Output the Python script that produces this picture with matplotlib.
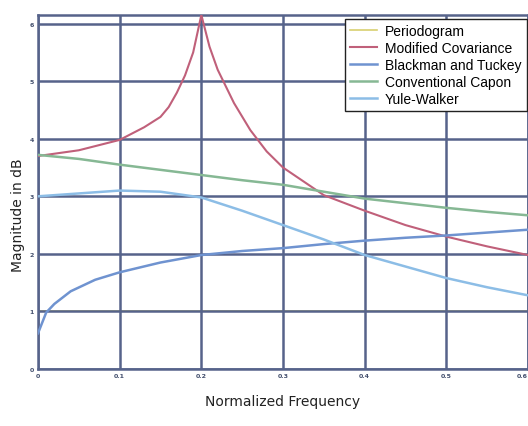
import matplotlib
matplotlib.use("Agg")
import matplotlib.pyplot as plt
import numpy as np

# ---- data ----
x_mc = [0.0, 0.05, 0.1, 0.13, 0.15, 0.16, 0.17, 0.18, 0.19, 0.2, 0.21, 0.22, 0.24, 0.26, 0.28, 0.3, 0.35, 0.4, 0.45, 0.5, 0.55, 0.6]
y_mc = [3.70, 3.80, 3.98, 4.20, 4.38, 4.55, 4.80, 5.10, 5.50, 6.15, 5.60, 5.20, 4.62, 4.15, 3.78, 3.50, 3.02, 2.75, 2.50, 2.30, 2.13, 1.98]

x_cc = [0.0, 0.05, 0.1, 0.15, 0.2, 0.25, 0.3, 0.35, 0.4, 0.45, 0.5, 0.55, 0.6]
y_cc = [3.72, 3.65, 3.55, 3.46, 3.37, 3.28, 3.20, 3.08, 2.96, 2.88, 2.80, 2.73, 2.67]

x_yw = [0.0, 0.05, 0.1, 0.15, 0.2, 0.25, 0.3, 0.35, 0.4, 0.45, 0.5, 0.55, 0.6]
y_yw = [3.00, 3.05, 3.10, 3.08, 2.98, 2.75, 2.50, 2.25, 1.98, 1.78, 1.58, 1.42, 1.28]

x_bt = [0.0, 0.005, 0.01, 0.02, 0.04, 0.07, 0.1, 0.15, 0.2, 0.25, 0.3, 0.35, 0.4, 0.45, 0.5, 0.55, 0.6]
y_bt = [0.62, 0.80, 0.98, 1.13, 1.35, 1.55, 1.68, 1.85, 1.98, 2.05, 2.10, 2.17, 2.23, 2.28, 2.32, 2.37, 2.42]

x_pg = [0.0, 0.6]
y_pg = [1.0, 1.0]

labels = ["Periodogram", "Modified Covariance", "Blackman and Tuckey", "Conventional Capon", "Yule-Walker"]
xticks = [0.0, 0.1, 0.2, 0.3, 0.4, 0.5, 0.6]
xticklabels = ["0", "0.1", "0.2", "0.3", "0.4", "0.5", "0.6"]
yticks = [0, 1, 2, 3, 4, 5, 6]

fig = plt.figure(figsize=(5.28, 4.27), dpi=100)
ax = fig.add_axes([38/528, 1-370/427, 1-38/528, (370-16)/427])

grid_c = "#56638a"
for xv in xticks:
    ax.axvline(xv, color=grid_c, lw=1.8, zorder=1)
for yv in yticks:
    ax.axhline(yv, color=grid_c, lw=1.8, zorder=1)

ax.plot(x_pg, y_pg, color="#d8d070", lw=1.2, label=labels[0], zorder=0.5)
ax.plot(x_mc, y_mc, color="#c0607a", lw=1.5, label=labels[1], zorder=3)
ax.plot(x_bt, y_bt, color="#6f93d0", lw=1.8, label=labels[2], zorder=3)
ax.plot(x_cc, y_cc, color="#86b894", lw=1.8, label=labels[3], zorder=3)
ax.plot(x_yw, y_yw, color="#8cbde6", lw=1.8, label=labels[4], zorder=3)

ax.set_xlim(0, 0.6)
ax.set_ylim(0, 6.15)
ax.set_xticks(xticks)
ax.set_xticklabels(xticklabels, fontsize=4.5, color="#44506e", fontweight="bold")
ax.get_xticklabels()[-1].set_horizontalalignment("right")
ax.set_yticks(yticks)
ax.set_yticklabels([str(v) for v in yticks], fontsize=4.5, color="#44506e", fontweight="bold")
ax.tick_params(length=0, pad=3)
for s in ax.spines.values():
    s.set_color(grid_c)
    s.set_linewidth(1.8)

leg = ax.legend(loc="upper right", bbox_to_anchor=(0.998, 0.99), prop={"family": "Liberation Sans", "size": 10},
                frameon=True, fancybox=False, edgecolor="#222222", framealpha=1.0,
                handlelength=1.9, handletextpad=0.6, labelspacing=0.21, borderpad=0.4, borderaxespad=0.0)
leg.get_frame().set_linewidth(1.0)

fig.text(283/528, 1-402/427, "Normalized Frequency", ha="center", va="center", fontsize=10, color="#222222")
fig.text(18/528, 1-215/427, "Magnitude in dB", ha="center", va="center", rotation=90, fontsize=10, color="#222222")

fig.savefig("out.png", dpi=100)
